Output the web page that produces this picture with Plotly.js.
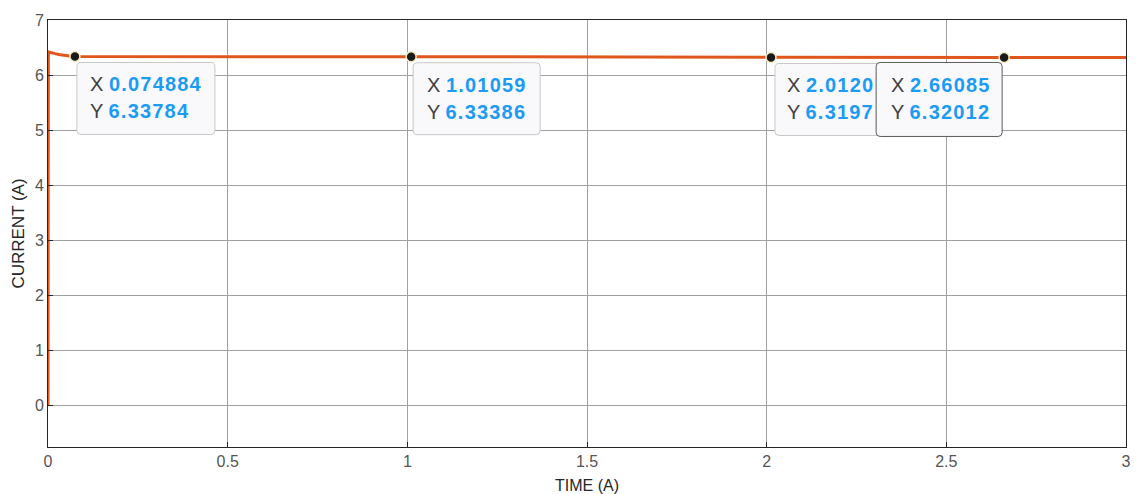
<!DOCTYPE html>
<html><head><meta charset="utf-8">
<script src="https://cdn.plot.ly/plotly-3.0.1.min.js"></script>
<style>html,body{margin:0;padding:0;background:#fff}#plot{width:1137px;height:494px}</style>
</head><body><div id="plot"></div>
<script>
// Current waveform samples (time in s, current in A)
const timeVals = [0, 0.0001, 0.001, 0.005, 0.01, 0.02, 0.03, 0.045, 0.06, 0.074884, 0.15, 0.3, 0.5, 0.75, 1.01059, 1.25, 1.5, 1.75, 2.0120, 2.25, 2.5, 2.66085, 2.8, 3.0];
const currentVals = [0, 6.42, 6.42, 6.415, 6.41, 6.39, 6.375, 6.355, 6.345, 6.33784, 6.336, 6.335, 6.335, 6.334, 6.33386, 6.33, 6.325, 6.322, 6.3197, 6.32, 6.32, 6.32012, 6.32, 6.32];
// Data tips
const tipX = [0.074884, 1.01059, 2.0120, 2.66085];
const tipY = [6.33784, 6.33386, 6.3197, 6.32012];
const tipXText = ["0.074884", "1.01059", "2.0120", "2.66085"];
const tipYText = ["6.33784", "6.33386", "6.3197", "6.32012"];
const xTicks = [0, 0.5, 1, 1.5, 2, 2.5, 3];
const xTickText = ["0", "0.5", "1", "1.5", "2", "2.5", "3"];
const yTicks = [0, 1, 2, 3, 4, 5, 6, 7];

const blue = "#1c9bf5";
const FONT = "Liberation Sans, Arial, sans-serif";
// box geometry in pixels relative to the data-tip point
const boxGeom = [
  {l:2, r:140, t:-6, b:-78, tx:13, border:"#c8c8c8"},
  {l:2, r:129, t:-6, b:-78, tx:14, border:"#c8c8c8"},
  {l:4, r:140, t:-6, b:-78, tx:14, border:"#c8c8c8"},
  {l:-128, r:-2, t:-5, b:-79, tx:-115, border:"#5a5a5a"}
];
function roundRect(l, r, t, b, rad){
  return "M" + (l+rad) + "," + t + " L" + (r-rad) + "," + t +
    " Q" + r + "," + t + " " + r + "," + (t-rad) +
    " L" + r + "," + (b+rad) + " Q" + r + "," + b + " " + (r-rad) + "," + b +
    " L" + (l+rad) + "," + b + " Q" + l + "," + b + " " + l + "," + (b+rad) +
    " L" + l + "," + (t-rad) + " Q" + l + "," + t + " " + (l+rad) + "," + t + " Z";
}
const shapes = tipX.map((x,i)=>({
  type:"path", xref:"x", yref:"y", xsizemode:"pixel", ysizemode:"pixel",
  xanchor:x, yanchor:tipY[i], layer:"above",
  path: roundRect(boxGeom[i].l, boxGeom[i].r, boxGeom[i].t, boxGeom[i].b, 4),
  fillcolor:"#f9f9fc", line:{color:boxGeom[i].border, width:1}
}));
function numSpan(s){
  return "<b><span style='color:" + blue + ";letter-spacing:1.2px'>" + s + "</span></b>";
}
const annotations = [];
tipX.forEach((x,i)=>{
  [["X", tipXText[i], -28],["Y", tipYText[i], -55]].forEach(([lab, val, dy])=>{
    annotations.push({
      x:x, y:tipY[i], xref:"x", yref:"y", xanchor:"left", yanchor:"middle",
      xshift: boxGeom[i].tx, yshift: dy, showarrow:false, align:"left",
      text: lab + " " + numSpan(val),
      font:{family:FONT, size:20, color:"#3f3f3f"}
    });
  });
});

const traces = [
  {x: timeVals, y: currentVals, mode:"lines", type:"scatter",
   line:{color:"#e0571d", width:3}, hoverinfo:"skip"},
  {x: tipX, y: tipY, mode:"markers", type:"scatter",
   marker:{color:"#1a1a1a", size:10, line:{color:"#f2edc4", width:1.5}}, hoverinfo:"skip"}
];

const axisFont = {family:FONT, size:16, color:"#555555"};
const layout = {
  width:1137, height:494,
  margin:{l:48, r:11, t:20, b:47},
  paper_bgcolor:"#ffffff", plot_bgcolor:"#ffffff",
  showlegend:false,
  xaxis:{range:[0,3], tickvals:xTicks, ticktext:xTickText, tickfont:axisFont,
    showgrid:true, gridcolor:"#a0a0a0", gridwidth:1, zeroline:false,
    showline:true, mirror:true, linecolor:"#262626", linewidth:1,
    ticks:"inside", ticklen:5, tickcolor:"#262626",
    title:{text:"TIME (A)", font:{family:FONT, size:16, color:"#262626"}, standoff:10}},
  yaxis:{range:[-0.75,7], tickvals:yTicks, tickfont:axisFont,
    showgrid:true, gridcolor:"#a0a0a0", gridwidth:1, zeroline:false,
    showline:true, mirror:true, linecolor:"#262626", linewidth:1,
    ticks:"inside", ticklen:5, tickcolor:"#262626",
    title:{text:"CURRENT (A)", font:{family:FONT, size:17, color:"#262626"}, standoff:5}},
  shapes: shapes,
  annotations: annotations
};
Plotly.newPlot("plot", traces, layout, {displayModeBar:false, staticPlot:true});
</script></body></html>
